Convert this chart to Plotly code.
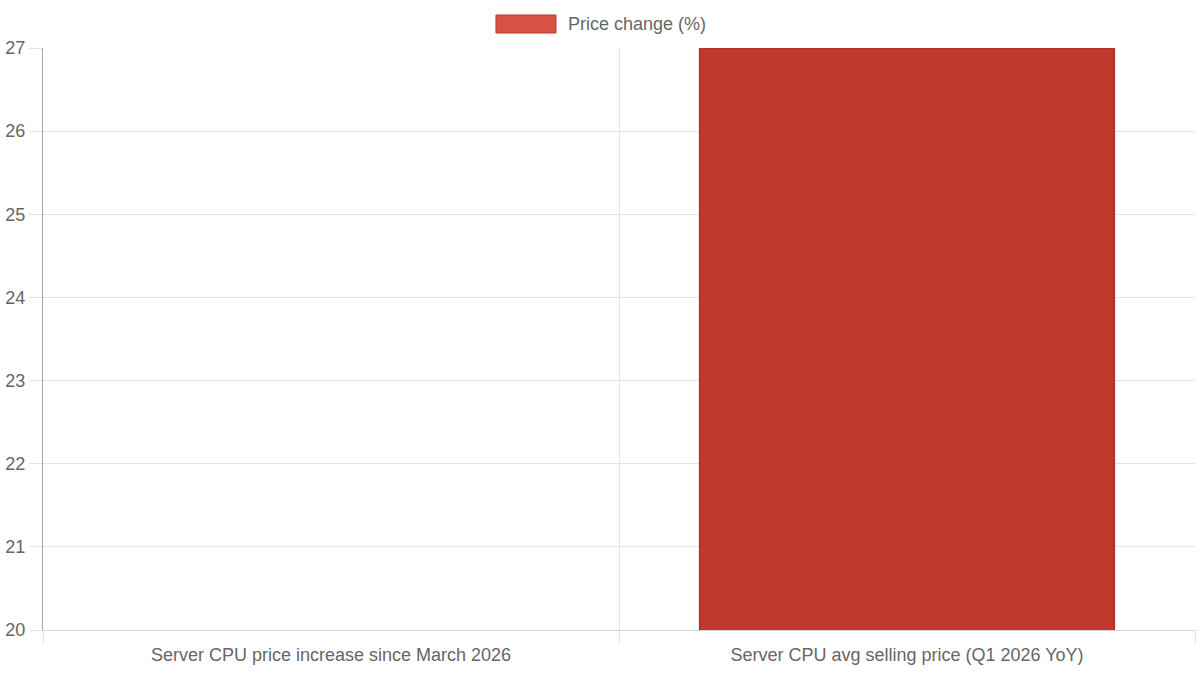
import plotly.graph_objects as go

categories = [
    "Server CPU price increase since March 2026",
    "Server CPU avg selling price (Q1 2026 YoY)",
]
price_change = [20, 27]
series_name = "Price change (%)"

y_min, y_max = 20, 27

font_family = "Liberation Sans, Arial, sans-serif"
text_color = "#666666"
grid_color = "#e5e5e5"

# no outline on bars that have no height (Chart.js draws nothing there)
border_widths = [0 if v <= y_min else 1.5 for v in price_change]

fig = go.Figure()
fig.add_trace(
    go.Bar(
        x=categories,
        y=price_change,
        name=series_name,
        width=0.72,
        marker=dict(color="#c0392b", line=dict(color="#a93226", width=border_widths)),
        showlegend=False,
    )
)

# legend drawn by hand to get the wide Chart.js style swatch
fig.add_shape(
    type="rect",
    xref="paper",
    yref="paper",
    x0=0.3932,
    x1=0.4453,
    y0=1.0258,
    y1=1.0567,
    fillcolor="#d65243",
    line=dict(color="#c0392b", width=1),
)
fig.add_annotation(
    text=series_name,
    xref="paper",
    yref="paper",
    x=0.4540,
    y=1.0412,
    xanchor="left",
    yanchor="middle",
    showarrow=False,
    font=dict(size=18, color=text_color, family=font_family),
)

fig.update_xaxes(
    tickson="boundaries",
    ticks="outside",
    ticklen=13,
    tickcolor=grid_color,
    ticklabelstandoff=8,
    showgrid=True,
    gridcolor=grid_color,
    showline=True,
    linecolor="#d6d6d6",
    automargin=False,
    tickfont=dict(size=18, color=text_color, family=font_family),
)
fig.update_yaxes(
    range=[y_min, y_max],
    dtick=1,
    ticks="outside",
    ticklen=13,
    tickcolor=grid_color,
    showgrid=True,
    gridcolor=grid_color,
    zeroline=False,
    showline=True,
    linecolor="#a0a0a0",
    automargin=False,
    tickfont=dict(size=18, color=text_color, family=font_family),
)

fig.update_layout(
    width=1200,
    height=675,
    autosize=False,
    plot_bgcolor="white",
    paper_bgcolor="white",
    margin=dict(l=43, r=5, t=48, b=45, autoexpand=False),
    bargap=0.28,
)

# drop the browser's default body margin so the figure sits at the page corner
fig.write_html(
    "out.html",
    config={"displayModeBar": False},
    post_script="document.body.style.margin='0';document.body.style.overflow='hidden';",
)
